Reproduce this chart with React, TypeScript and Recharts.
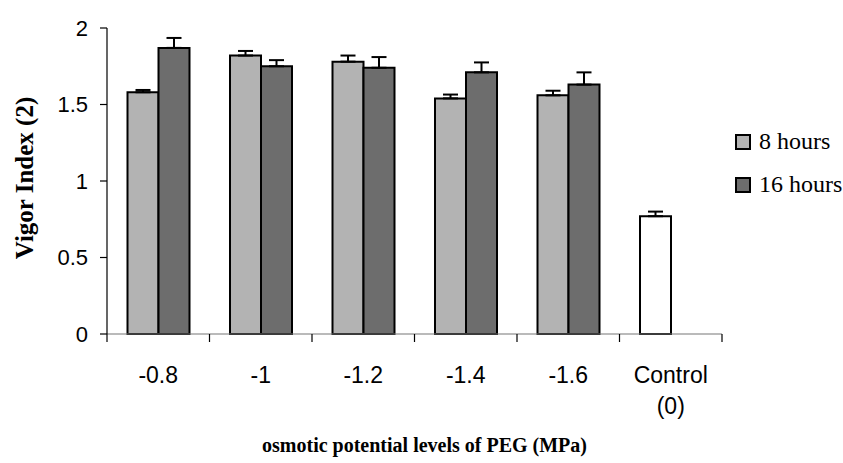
import { BarChart, Bar, XAxis, YAxis, ErrorBar, Legend, Cell } from 'recharts'

// osmotic potential levels (MPa); last one is the untreated control
const categories = ['-0.8', '-1', '-1.2', '-1.4', '-1.6', 'Control\n(0)']
const hours8 = [1.58, 1.82, 1.78, 1.54, 1.56, 0.77]
const hours8Err = [0.015, 0.03, 0.04, 0.025, 0.03, 0.03]
const hours16 = [1.87, 1.75, 1.74, 1.71, 1.63, null]
const hours16Err = [0.065, 0.04, 0.07, 0.065, 0.08, null]
const yTicks = [0, 0.5, 1, 1.5, 2]

const LIGHT = '#b3b3b3'
const DARK = '#6d6d6d'
const SANS = '"Liberation Sans", Arial, sans-serif'
const SERIF = '"Liberation Serif", "Times New Roman", serif'

const data = categories.map((name, i) => ({
  name,
  h8: hours8[i],
  h8e: [0, hours8Err[i]],
  h16: hours16[i],
  h16e: hours16[i] == null ? undefined : [0, hours16Err[i] as number],
}))

// category label plus the tick marks on the band edges (Excel style)
function CategoryTick(props: any) {
  const { x, y, payload, index } = props
  const half = payload.offset ?? 0
  const lines = String(payload.value).split('\n')
  const last = index === categories.length - 1
  return (
    <g>
      <line x1={x - half} x2={x - half} y1={y} y2={y + 8} stroke="#000" strokeWidth={1.2} />
      {last && <line x1={x + half} x2={x + half} y1={y} y2={y + 8} stroke="#000" strokeWidth={1.2} />}
      <text x={x} y={y + 49} textAnchor="middle" fontFamily={SANS} fontSize={23} fill="#000">
        {lines.map((l, k) => (
          <tspan key={k} x={x} dy={k === 0 ? 0 : 31}>
            {l}
          </tspan>
        ))}
      </text>
    </g>
  )
}

function LegendContent() {
  const items = [
    { label: '8 hours', color: LIGHT },
    { label: '16 hours', color: DARK },
  ]
  return (
    <div style={{ fontFamily: SERIF, fontSize: 24, color: '#000' }}>
      {items.map((it) => (
        <div key={it.label} style={{ display: 'flex', alignItems: 'center', height: 43 }}>
          <span
            style={{
              width: 12,
              height: 12,
              background: it.color,
              border: '2px solid #000',
              marginRight: 8,
              display: 'inline-block',
            }}
          />
          {it.label}
        </div>
      ))}
    </div>
  )
}

export default function App() {
  return (
    <div style={{ position: 'absolute', left: 0, top: 0, background: '#fff' }}>
      <BarChart
        width={843}
        height={463}
        data={data}
        margin={{ top: 28, right: 121, left: 0, bottom: 0 }}
        barCategoryGap="20%"
        barGap={0}
      >
        <XAxis
          dataKey="name"
          interval={0}
          height={129}
          tickLine={false}
          tickSize={0}
          tickMargin={0}
          axisLine={{ stroke: '#777', strokeWidth: 1.2 }}
          tick={<CategoryTick />}
          label={{
            content: (p: any) => {
              const vb = p.viewBox
              return (
                <text
                  x={vb.x + vb.width / 2 + 10}
                  y={vb.y + 118}
                  textAnchor="middle"
                  fontFamily={SERIF}
                  fontWeight="bold"
                  fontSize={20}
                  fill="#000"
                >
                  osmotic potential levels of PEG (MPa)
                </text>
              )
            },
          }}
        />
        <YAxis
          width={107}
          domain={[0, 2]}
          ticks={yTicks}
          tickSize={7}
          tickMargin={12}
          axisLine={{ stroke: '#000', strokeWidth: 1.2 }}
          tickLine={{ stroke: '#000', strokeWidth: 1.2 }}
          tick={{ fontFamily: SANS, fontSize: 22, fill: '#000' }}
          label={{
            content: (p: any) => {
              const vb = p.viewBox
              const cy = vb.y + vb.height / 2 - 3
              return (
                <text
                  transform={`translate(${vb.x + 24},${cy}) rotate(-90)`}
                  textAnchor="middle"
                  dominantBaseline="central"
                  fontFamily={SERIF}
                  fontWeight="bold"
                  fontSize={25}
                  fill="#000"
                >
                  Vigor Index (2)
                </text>
              )
            },
          }}
        />
        <Legend
          layout="vertical"
          align="center"
          verticalAlign="middle"
          content={<LegendContent />}
          wrapperStyle={{ left: 735, top: 120, width: 110 }}
        />
        <Bar dataKey="h8" name="8 hours" fill={LIGHT} stroke="#000" strokeWidth={2} isAnimationActive={false}>
          {data.map((_, i) => (
            <Cell key={i} fill={i === categories.length - 1 ? '#fff' : LIGHT} />
          ))}
          <ErrorBar dataKey="h8e" direction="y" width={7.5} stroke="#000" strokeWidth={2} />
        </Bar>
        <Bar dataKey="h16" name="16 hours" fill={DARK} stroke="#000" strokeWidth={2} isAnimationActive={false}>
          <ErrorBar dataKey="h16e" direction="y" width={7.5} stroke="#000" strokeWidth={2} />
        </Bar>
      </BarChart>
    </div>
  )
}
